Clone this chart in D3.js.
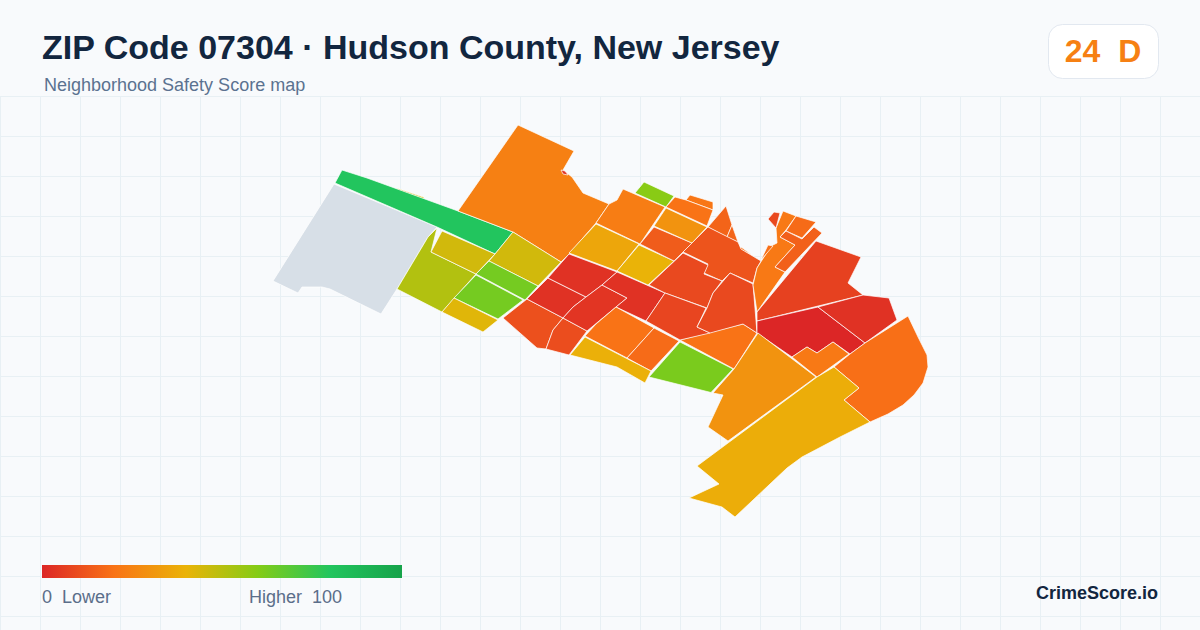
<!DOCTYPE html>
<html>
<head>
<meta charset="utf-8">
<title>ZIP Code 07304</title>
<script src="https://cdn.jsdelivr.net/npm/d3@7"></script>
<style>
html, body { margin: 0; padding: 0; background: #f8fafc; }
svg { display: block; }
text { font-family: "Liberation Sans", Arial, sans-serif; white-space: pre; }
</style>
</head>
<body>
<div id="chart"></div>
<script>
var WIDTH = 1200;
var HEIGHT = 630;

var titleText = "ZIP Code 07304 · Hudson County, New Jersey";
var subtitleText = "Neighborhood Safety Score map";
var zipScore = 24;
var zipGrade = "D";
var brandText = "CrimeScore.io";

var legendStops = [0, 20, 40, 60, 80, 100];
var legendColors = ["#dc2626", "#f97316", "#eab308", "#84cc16", "#22c55e", "#16a34a"];
var legendLowLabel = "0  Lower";
var legendHighLabel = "Higher  100";

// score per tract, null = no data
var tractScores = [
    null, 44, 80, 24, 3,
    51, 45, 45, 63, 63, 42,
    11, 10, 3, 3, 4, 3,
    20, 18, 39, 62, 20,
    59, 23, 36, 40, 14, 30, 21, 20,
    16, 16, 20,
    12, 9, 8, 9,
    22, 19, 9, 18, 15,
    7, 0, 3, 22, 19, 38, 30
];

// outlines, in map plane units
var tractRings = [
    [[334,184],[437,227],[428,237],[397,289],[381,314],[330,289],[322,287],[302,287],[298,293],[273,281]],
    [[397,188.2],[424,197.3],[424,199],[397,189.5]],
    [[342,170],[367,178],[458,211],[513,232],[495,254],[437,227],[335,183]],
    [[518,125],[574,151],[563,170],[572,177],[583,193],[609,204],[596,223],[569,254],[561,262],[513,232],[458,211]],
    [[561,170],[565,171],[568,175],[563,174]],

    [[437,228],[431,252],[476,274],[442,312],[397,289],[428,237]],
    [[442,231],[495,254],[476,274],[431,252]],
    [[513,232],[561,262],[538,286],[489,261],[495,254]],
    [[489,261],[538,286],[525,300],[476,274]],
    [[476,275],[523,300],[498,319],[454,298]],
    [[454,298],[498,320],[483,332],[442,312]],

    [[503,318],[527,299],[563,318],[553,330],[546,349],[537,348]],
    [[563,318],[587,331],[569,355],[546,349],[553,330]],
    [[548,278],[586,297],[573,307],[563,318],[527,299]],
    [[569,254],[617,272],[602,285],[586,297],[548,278]],
    [[602,285],[627,298],[616,307],[587,331],[563,318],[573,307],[586,297]],
    [[617,272],[665,293],[646,321],[616,307],[627,298],[602,285]],

    [[616,307],[654,328],[627,358],[585,336],[596,324]],
    [[654,328],[679,341],[651,371],[627,358]],
    [[585,337],[651,371],[645,383],[617,367],[570,355]],
    [[680,342],[733,369],[711,392.5],[649,377]],
    [[680,340],[743,324],[757,333],[734,369]],

    [[644,182],[674,196],[666,207],[635,193]],
    [[623,189],[665,207],[640,244],[596,223],[609,204],[617,200]],
    [[596,224],[639,244],[617,271],[569,253]],
    [[639,245],[674,261],[648,285],[617,271]],
    [[654,227],[692,243],[674,261],[640,244]],
    [[666,208],[707,227],[692,243],[654,226]],
    [[690,195],[713,202],[713,210],[686,200]],
    [[675,197],[686,200],[713,210],[707,226],[666,207]],

    [[726,206],[732,225],[727,237],[708,227]],
    [[732,225],[738,242],[727,237]],
    [[741,247],[752,255],[740,249]],

    [[708,227],[738,242],[741,249],[761,261],[757,268],[753,283],[730,273],[722,281],[704,273],[708,264],[683,252]],
    [[683,253],[708,265],[704,274],[722,281],[713,293],[707,308],[665,293],[649,285]],
    [[665,293],[706,308],[697,327],[710,333],[680,340],[646,321]],
    [[730,273],[753,284],[757,333],[743,324],[710,333],[697,327],[707,308],[713,293]],

    [[783,211],[796,216],[786,230],[780,237],[795,245],[775,267],[785,272],[757,312],[753,285],[757,268],[771,246],[777,243],[776,228]],
    [[768,245],[773,246],[761,260]],
    [[768,219],[774,212],[780,213],[776,228]],
    [[796,216],[816,222],[802,238],[786,231]],
    [[786,231],[802,239],[814,227],[822,233],[785,272],[775,267],[795,245],[780,237]],

    [[816,241],[861,257],[848,283],[863,295],[757,321],[757,312]],
    [[757,321],[818,307],[865,343],[850,354],[833,342],[817,353],[807,347],[792,357],[757,333]],
    [[818,307],[863,295],[889,298],[897,320],[865,343]],
    [[792,357],[807,347],[817,353],[833,342],[849,354],[817,377]],
    [[908,316],[918,337],[927,355],[928,367],[923,383],[914,395],[903,405],[888,414],[870,422],[844,400],[859,388],[834,367],[850,354],[865,343]],
    [[834,367],[859,388],[844,400],[870,422],[840,437],[802,457],[787,468],[735,517],[722,507],[689,498],[719,484],[697,466],[817,377]],
    [[758,333],[816,377],[728,441],[708,427],[723,395],[713,393],[734,369]]
];

var x = d3.scaleLinear().domain([0, 1200]).range([0, WIDTH]);
var y = d3.scaleLinear().domain([0, 630]).range([0, HEIGHT]);

var color = d3.scaleLinear().domain(legendStops).range(legendColors);
var legendX = d3.scaleLinear().domain([0, 100]).range([42, 402]);

var line = d3.line()
    .x(function(d) { return x(d[0]); })
    .y(function(d) { return y(d[1]); })
    .curve(d3.curveLinearClosed);

var svg = d3.select("#chart")
    .append("svg")
    .attr("width", WIDTH)
    .attr("height", HEIGHT)
    .attr("viewBox", "0 0 " + WIDTH + " " + HEIGHT);

var defs = svg.append("defs");

var grad = defs.append("linearGradient")
    .attr("id", "legendGrad");

grad.selectAll("stop")
    .data(legendStops)
    .enter().append("stop")
    .attr("offset", function(d) { return d + "%"; })
    .attr("stop-color", function(d) { return color(d); });

svg.append("rect")
    .attr("width", WIDTH)
    .attr("height", HEIGHT)
    .attr("fill", "#f8fafc");

// background grid, below the header only
var GRID_TOP = 96;

svg.selectAll("line.gridx")
    .data(d3.range(0, WIDTH + 1, 40))
    .enter().append("line")
    .attr("class", "gridx")
    .attr("x1", function(d) { return d + 0.5; })
    .attr("x2", function(d) { return d + 0.5; })
    .attr("y1", GRID_TOP)
    .attr("y2", HEIGHT)
    .attr("stroke", "#e8f0f4");

svg.selectAll("line.gridy")
    .data(d3.range(GRID_TOP, HEIGHT, 40))
    .enter().append("line")
    .attr("class", "gridy")
    .attr("x1", 0)
    .attr("x2", WIDTH)
    .attr("y1", function(d) { return d + 0.5; })
    .attr("y2", function(d) { return d + 0.5; })
    .attr("stroke", "#e8f0f4");

// tracts
svg.selectAll("path.tract")
    .data(tractRings)
    .enter().append("path")
    .attr("class", "tract")
    .attr("d", function(d) { return line(d); })
    .attr("fill", function(d, i) {
        return tractScores[i] === null ? "#d7dfe7" : color(tractScores[i]);
    })
    .attr("stroke", "#ffffff")
    .attr("stroke-width", 0.7)
    .attr("stroke-linejoin", "round");

// header
svg.append("text")
    .attr("x", 42)
    .attr("y", 59)
    .attr("font-size", 34)
    .attr("font-weight", 700)
    .attr("fill", "#12263f")
    .text(titleText);

svg.append("text")
    .attr("x", 44)
    .attr("y", 91)
    .attr("font-size", 18)
    .attr("fill", "#5b7290")
    .text(subtitleText);

// score badge
svg.append("rect")
    .attr("x", 1048.5)
    .attr("y", 24.5)
    .attr("width", 110)
    .attr("height", 54)
    .attr("rx", 14)
    .attr("fill", "#ffffff")
    .attr("stroke", "#e2e8f0");

svg.append("text")
    .attr("x", 1103)
    .attr("y", 62)
    .attr("text-anchor", "middle")
    .attr("font-size", 32)
    .attr("font-weight", 700)
    .attr("fill", color(zipScore))
    .text(zipScore + "  " + zipGrade);

// legend
svg.append("rect")
    .attr("x", legendX(0))
    .attr("y", 565)
    .attr("width", legendX(100) - legendX(0))
    .attr("height", 13)
    .attr("fill", "url(#legendGrad)");

svg.append("text")
    .attr("x", legendX(0))
    .attr("y", 603)
    .attr("font-size", 18)
    .attr("fill", "#5b6e8a")
    .text(legendLowLabel);

svg.append("text")
    .attr("x", 342)
    .attr("y", 603)
    .attr("text-anchor", "end")
    .attr("font-size", 18)
    .attr("fill", "#5b6e8a")
    .text(legendHighLabel);

svg.append("text")
    .attr("x", 1158)
    .attr("y", 599)
    .attr("text-anchor", "end")
    .attr("font-size", 18)
    .attr("font-weight", 700)
    .attr("fill", "#12263f")
    .text(brandText);
</script>
</body>
</html>
